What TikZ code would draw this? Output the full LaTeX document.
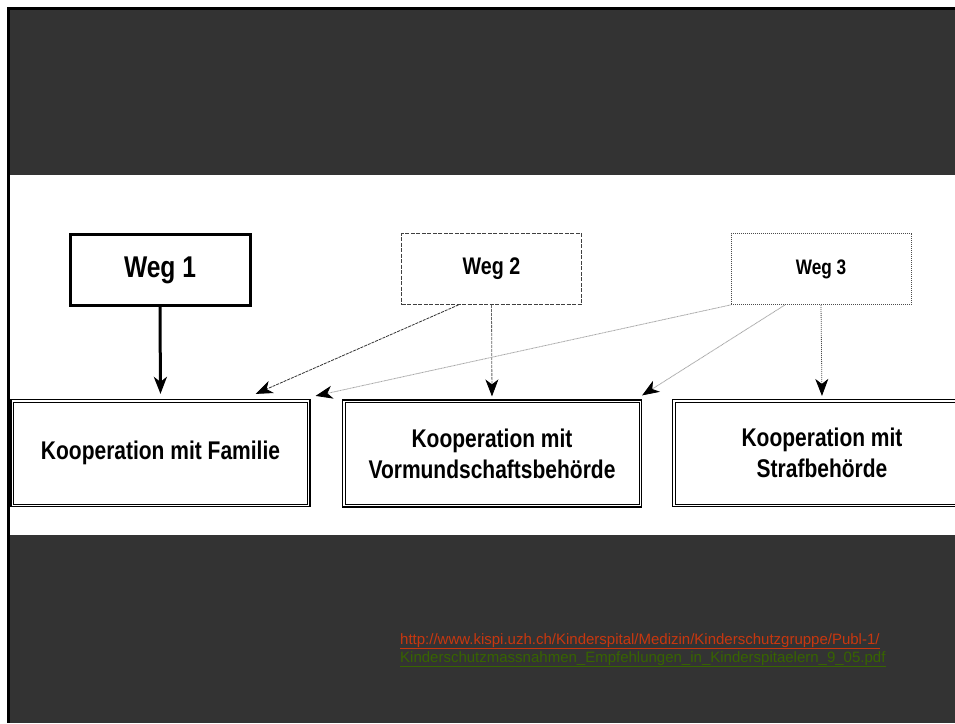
\documentclass[tikz,border=0pt]{standalone}
\usepackage{fontspec}
\setmainfont{Liberation Sans}
\newfontfamily\narrowfont[FakeStretch=0.82]{Liberation Sans}
\usetikzlibrary{arrows.meta,calc}
\definecolor{slidegray}{HTML}{333333}
\definecolor{linkred}{RGB}{200,55,15}
\definecolor{linkgreen}{RGB}{55,100,0}

\begin{document}
\begin{tikzpicture}[x=1pt,y=-1pt,
	>={Stealth[length=17pt,width=13pt,inset=5pt,color=black]},
	]

	\tikzset{weg/.style={
				draw,inner sep=0pt,
				minimum width=180pt,minimum height=71pt,
				font=\narrowfont\bfseries}
	}
	\tikzset{koop/.style={
				draw,line width=1.2pt,
				minimum width=299pt,minimum height=107pt,align=center,
				font={\narrowfont\bfseries\fontsize{25.6}{31}\selectfont}}
	}
	\tikzset{link/.style={
				anchor=base west,inner sep=0pt,
				font={\fontsize{15}{18}\selectfont}}
	}

	% slide background
	\clip (0,0) rectangle (955,723);
	\fill[white] (0,0) rectangle (955,723);
	\fill[black] (7,7) rectangle (955,723);
	\fill[slidegray] (10,10) rectangle (955,723);
	\fill[white] (10,175) rectangle (955,535);

	\node[weg,line width=3pt] (w1) at (160,270) {\fontsize{30}{36}\selectfont Weg 1};
	\node[weg,draw=black!75,dash pattern=on 4pt off 1.5pt,line width=0.8pt] (w2) at (491.5,269) {\fontsize{24}{29}\selectfont Weg 2};
	\node[weg,draw=black!70,dash pattern=on 1pt off 1pt,line width=0.8pt] (w3) at (821,269) {\fontsize{21}{25}\selectfont Weg 3};

	\node[koop] (ka) at (160.5,453) {Kooperation mit Familie};
	\node[koop] (kb) at (492,453.5) {Kooperation mit\\Vormundschaftsbehörde};
	\node[koop] (kc) at (822,453) {Kooperation mit\\Strafbehörde};

	% inner line of the double frames
	\foreach \k in {ka,kb,kc} {
			\draw[line width=0.8pt] ($(\k.south west)+(3,-3)$) rectangle ($(\k.north east)+(-3,3)$);
		}

	\draw[->,line width=3pt,shorten >=5pt] (w1.south) -- (ka.north);

	\draw[->,black!80,dash pattern=on 3pt off 1pt,line width=0.8pt] ($(w2.south)+(-33,0)$) -- ($(ka.north east)+(-55,-5)$);
	\draw[->,black!60,dash pattern=on 3pt off 1pt,line width=0.8pt,shorten >=3pt] (w2.south) -- (kb.north);

	\draw[->,black!35,dash pattern=on 1pt off 0.5pt,line width=0.8pt] (w3.south west) -- ($(ka.north east)+(5,-3)$);
	\draw[->,black!35,dash pattern=on 1pt off 0.5pt,line width=0.8pt] ($(w3.south)+(-36,0)$) -- ($(kb.north east)+(0,-4)$);
	\draw[->,black!70,dash pattern=on 1pt off 1pt,line width=0.8pt,shorten >=3pt] (w3.south) -- (kc.north);

	% source
	\node[link,text=linkred] (url1) at (400,644) {\underline{http://www.kispi.uzh.ch/Kinderspital/Medizin/Kinderschutzgruppe/Publ-1/}};
	\node[link,text=linkgreen] (url2) at (400,662) {\underline{Kinderschutzmassnahmen\_Empfehlungen\_in\_Kinderspitaelern\_9\_05.pdf}};

\end{tikzpicture}
\end{document}
